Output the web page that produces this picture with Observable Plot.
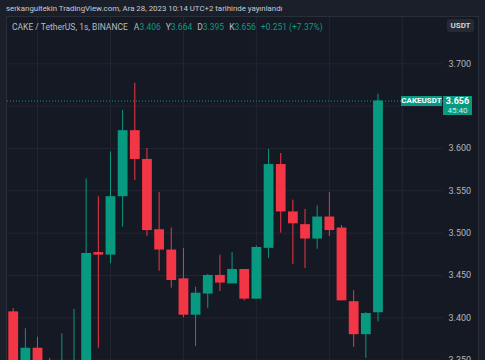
<!DOCTYPE html>
<html>
<head>
<meta charset="utf-8">
<script src="https://cdn.jsdelivr.net/npm/d3@7"></script>
<script src="https://cdn.jsdelivr.net/npm/@observablehq/plot@0.6"></script>
<style>
  html, body { margin: 0; padding: 0; }
  body { width: 485px; height: 360px; overflow: hidden; background: #1b1f2a; font-family: Roboto, "Noto Sans", sans-serif; position: relative; }
  #pub { position: absolute; left: 6px; top: 4px; font-size: 7.85px; line-height: 10px; color: #c9ccd4; white-space: nowrap; }
  #pane { position: absolute; left: 6px; top: 16px; width: 471px; height: 344px; background: #151924; border: 1px solid #2a2e39; border-bottom: none; overflow: hidden; }
  #legend { position: absolute; left: 5px; top: 5px; font-size: 8.5px; line-height: 10px; color: #b8bbc3; white-space: nowrap; }
  #legend .v { color: #0b9b82; }
  #legend .k { margin-left: 5px; }
  #usdt { position: absolute; left: 440px; top: 2px; width: 27px; height: 13px; background: #262a35; border-radius: 3px; color: #d1d4dc; font-size: 8px; line-height: 13px; text-align: center; font-weight: bold; }
  .lbl { position: absolute; background: #089981; color: #fff; font-size: 8px; font-weight: bold; text-align: center; }
  #chart { position: absolute; left: 0; top: 0; }
</style>
</head>
<body>
<div id="pub">serkangultekin TradingView.com, Ara 28, 2023 10:14 UTC+2 tarihinde yayınlandı</div>
<div id="pane">
  <div id="chart"></div>
  <div id="legend"></div>
  <div id="usdt">USDT</div>
</div>
<script>
// 1-second candles, CAKE / TetherUS (BINANCE)
const opens  = [3.407, 3.340, 3.364, 3.348, 3.320, 3.330, 3.345, 3.477, 3.474, 3.543, 3.621, 3.587, 3.504, 3.480, 3.446, 3.403, 3.428, 3.450, 3.440, 3.457, 3.422, 3.482, 3.581, 3.525, 3.510, 3.493, 3.519, 3.506, 3.419, 3.380, 3.406];
const highs  = [3.411, 3.387, 3.377, 3.352, 3.381, 3.410, 3.564, 3.543, 3.596, 3.645, 3.677, 3.600, 3.548, 3.506, 3.482, 3.436, 3.451, 3.474, 3.477, 3.457, 3.485, 3.599, 3.594, 3.539, 3.528, 3.532, 3.548, 3.509, 3.432, 3.406, 3.664];
const lows   = [3.330, 3.334, 3.328, 3.312, 3.315, 3.322, 3.340, 3.364, 3.464, 3.507, 3.562, 3.496, 3.455, 3.435, 3.400, 3.366, 3.411, 3.431, 3.440, 3.420, 3.422, 3.470, 3.500, 3.463, 3.458, 3.481, 3.496, 3.420, 3.365, 3.352, 3.395];
const closes = [3.340, 3.364, 3.335, 3.322, 3.345, 3.342, 3.476, 3.474, 3.543, 3.621, 3.587, 3.503, 3.480, 3.444, 3.403, 3.429, 3.450, 3.441, 3.457, 3.422, 3.483, 3.581, 3.525, 3.511, 3.493, 3.519, 3.503, 3.420, 3.380, 3.405, 3.656];

const gridPrices  = [3.35, 3.40, 3.45, 3.50, 3.55, 3.60, 3.65, 3.70];
const labelPrices = [3.35, 3.40, 3.45, 3.50, 3.55, 3.60, 3.70];
const timeGrid    = [2, 8, 14, 20, 26, 32];

const symbol = "CAKEUSDT";
const countdown = "45:40";

const UP = "#089981", DOWN = "#f23645";

const data = opens.map((o, i) => ({i, open: o, high: highs[i], low: lows[i], close: closes[i]}));
const last = data[data.length - 1];
const prev = data[data.length - 2];
const color = d => d.close >= d.open ? UP : DOWN;

const chart = Plot.plot({
  width: 471, height: 344,
  marginTop: 0, marginBottom: 0, marginLeft: 0, marginRight: 35,
  style: {background: "transparent", color: "#b2b5be", fontFamily: "Roboto, sans-serif", fontSize: "9px", overflow: "hidden"},
  x: {type: "linear", domain: [0, 30], range: [5.7, 370.5], axis: null},
  y: {domain: [3.35, 3.70], range: [342.6, 46.3], axis: null},
  marks: [
    Plot.ruleY(gridPrices, {y: d => d, stroke: "#222632", strokeWidth: 1}),
    Plot.ruleX(timeGrid, {x: d => d, stroke: "#222632", strokeWidth: 1}),
    Plot.axisY(labelPrices, {anchor: "right", tickSize: 0, tickPadding: 5, textAnchor: "start", tickFormat: d3.format(".3f"), fill: "#b2b5be", fontSize: 9}),
    Plot.ruleY([last.close], {y: d => d, stroke: UP, strokeDasharray: "1,2", strokeWidth: 1}),
    Plot.ruleX(data, {x: "i", y1: "low", y2: "high", stroke: color, strokeWidth: 1, clip: true}),
    Plot.ruleX(data, {x: "i", y1: "open", y2: "close", stroke: color, strokeWidth: 9.8, clip: true})
  ]
});
document.getElementById("chart").appendChild(chart);

// legend (change vs previous close)
const chg = last.close - prev.close;
const pct = chg / prev.close * 100;
const f3 = d3.format(".3f");
document.getElementById("legend").innerHTML =
  `CAKE / TetherUS, 1s, BINANCE` +
  `<span class="k" style="margin-left:6px">A</span><span class="v">${f3(last.open)}</span>` +
  `<span class="k">Y</span><span class="v">${f3(last.high)}</span>` +
  `<span class="k">D</span><span class="v">${f3(last.low)}</span>` +
  `<span class="k">K</span><span class="v">${f3(last.close)}</span>` +
  `<span class="v" style="margin-left:5px">${chg >= 0 ? "+" : ""}${f3(chg)} (${pct >= 0 ? "+" : ""}${pct.toFixed(2)}%)</span>`;

// last-price labels positioned via the y scale
const yPos = chart.scale("y").apply(last.close);
const pane = document.getElementById("pane");
const sym = document.createElement("div");
sym.className = "lbl";
sym.textContent = symbol;
Object.assign(sym.style, {left: "394px", top: (yPos - 5) + "px", width: "41px", height: "10px", lineHeight: "10px"});
pane.appendChild(sym);
const pr = document.createElement("div");
pr.className = "lbl";
pr.innerHTML = `<div style="font-size:9px;line-height:10px">${f3(last.close)}</div><div style="font-size:8px;line-height:9px;font-weight:normal;color:#cdebe4">${countdown}</div>`;
Object.assign(pr.style, {left: "436px", top: (yPos - 5) + "px", width: "29px", height: "19px"});
pane.appendChild(pr);
</script>
</body>
</html>
